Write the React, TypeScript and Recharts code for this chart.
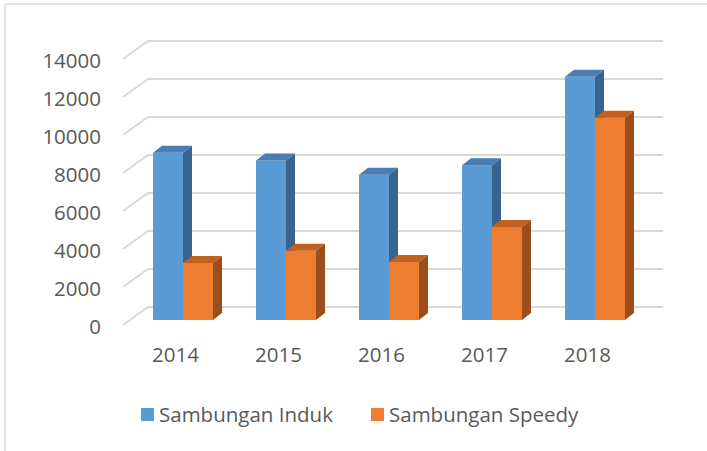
import React from 'react';
import { BarChart, Bar, XAxis, YAxis, CartesianGrid } from 'recharts';

const categories = ['2014', '2015', '2016', '2017', '2018'];
const indukValues = [8800, 8400, 7650, 8150, 12800];
const speedyValues = [3000, 3650, 3050, 4900, 10650];
const yTicks = [0, 2000, 4000, 6000, 8000, 10000, 12000, 14000];
const seriesNames = ['Sambungan Induk', 'Sambungan Speedy'];

const data = categories.map((c, i) => ({ year: c, induk: indukValues[i], speedy: speedyValues[i] }));

const FONT = '"Open Sans", "Noto Sans", sans-serif';
const TEXT = '#595959';
const GRID = '#D9D9D9';
const DX = 9;
const DY = 7;

const makeBar3D = (front: string, top: string, side: string) => (props: any) => {
  const { x, y, width, height } = props;
  if (width == null || height == null) return null;
  const x2 = x + width;
  const yb = y + height;
  return (
    <g>
      <rect x={x} y={y} width={width} height={height} fill={front} />
      <path d={`M${x},${y} L${x + DX},${y - DY} L${x2 + DX},${y - DY} L${x2},${y} Z`} fill={top} />
      <path d={`M${x2},${y} L${x2 + DX},${y - DY} L${x2 + DX},${yb - DY} L${x2},${yb} Z`} fill={side} />
    </g>
  );
};

const gridLine = (p: any) => {
  const { x1, x2, y1 } = p;
  const d = `M${x1 - 8},${y1 + 5} L${x1 + 17},${y1 - 13} L${x2 + 17},${y1 - 13}`;
  return <path key={p.key ?? `g-${y1}`} d={d} stroke={GRID} strokeWidth={1.8} fill="none" />;
};

const YTick = (p: any) => {
  const { y, payload } = p;
  return (
    <text x={101} y={y + 14} textAnchor="end" fill={TEXT} fontFamily={FONT} fontSize={20.5}>
      {payload.value}
    </text>
  );
};

const XTick = (p: any) => {
  const { x, payload } = p;
  return (
    <text x={x - 7} y={362} textAnchor="middle" fill={TEXT} fontFamily={FONT} fontSize={20.5}>
      {payload.value}
    </text>
  );
};

export default function App() {
  return (
    <div style={{ position: 'absolute', left: 0, top: 0, width: 707, height: 451, background: '#fff', overflow: 'hidden' }}>
      <BarChart
        width={707}
        height={451}
        data={data}
        margin={{ top: 54, right: 61, bottom: 0, left: 0 }}
        barGap={0}
        barSize={30}
      >
        <CartesianGrid vertical={false} horizontal={gridLine} />
        <XAxis dataKey="year" height={131} axisLine={false} tickLine={false} tick={<XTick />} interval={0} />
        <YAxis
          width={131}
          domain={[0, 14000]}
          ticks={yTicks}
          axisLine={false}
          tickLine={false}
          tick={<YTick />}
          interval={0}
        />
        <Bar dataKey="induk" name={seriesNames[0]} isAnimationActive={false} shape={makeBar3D('#5B9BD5', '#4A7DB3', '#3A6490')} />
        <Bar dataKey="speedy" name={seriesNames[1]} isAnimationActive={false} shape={makeBar3D('#ED7D31', '#C2611F', '#9B4E1C')} />
      </BarChart>
      <svg width={707} height={451} style={{ position: 'absolute', left: 0, top: 0, pointerEvents: 'none' }}>
        <line x1={5} y1={4} x2={707} y2={4} stroke={GRID} strokeWidth={1.5} />
        <line x1={5} y1={4} x2={5} y2={451} stroke={GRID} strokeWidth={1.5} />
        <rect x={141} y={408} width={13} height={13} fill="#5B9BD5" />
        <text x={159} y={422} fill={TEXT} fontFamily={FONT} fontSize={20.5}>{seriesNames[0]}</text>
        <rect x={371} y={408} width={13} height={13} fill="#ED7D31" />
        <text x={389} y={422} fill={TEXT} fontFamily={FONT} fontSize={20.5}>{seriesNames[1]}</text>
      </svg>
    </div>
  );
}
